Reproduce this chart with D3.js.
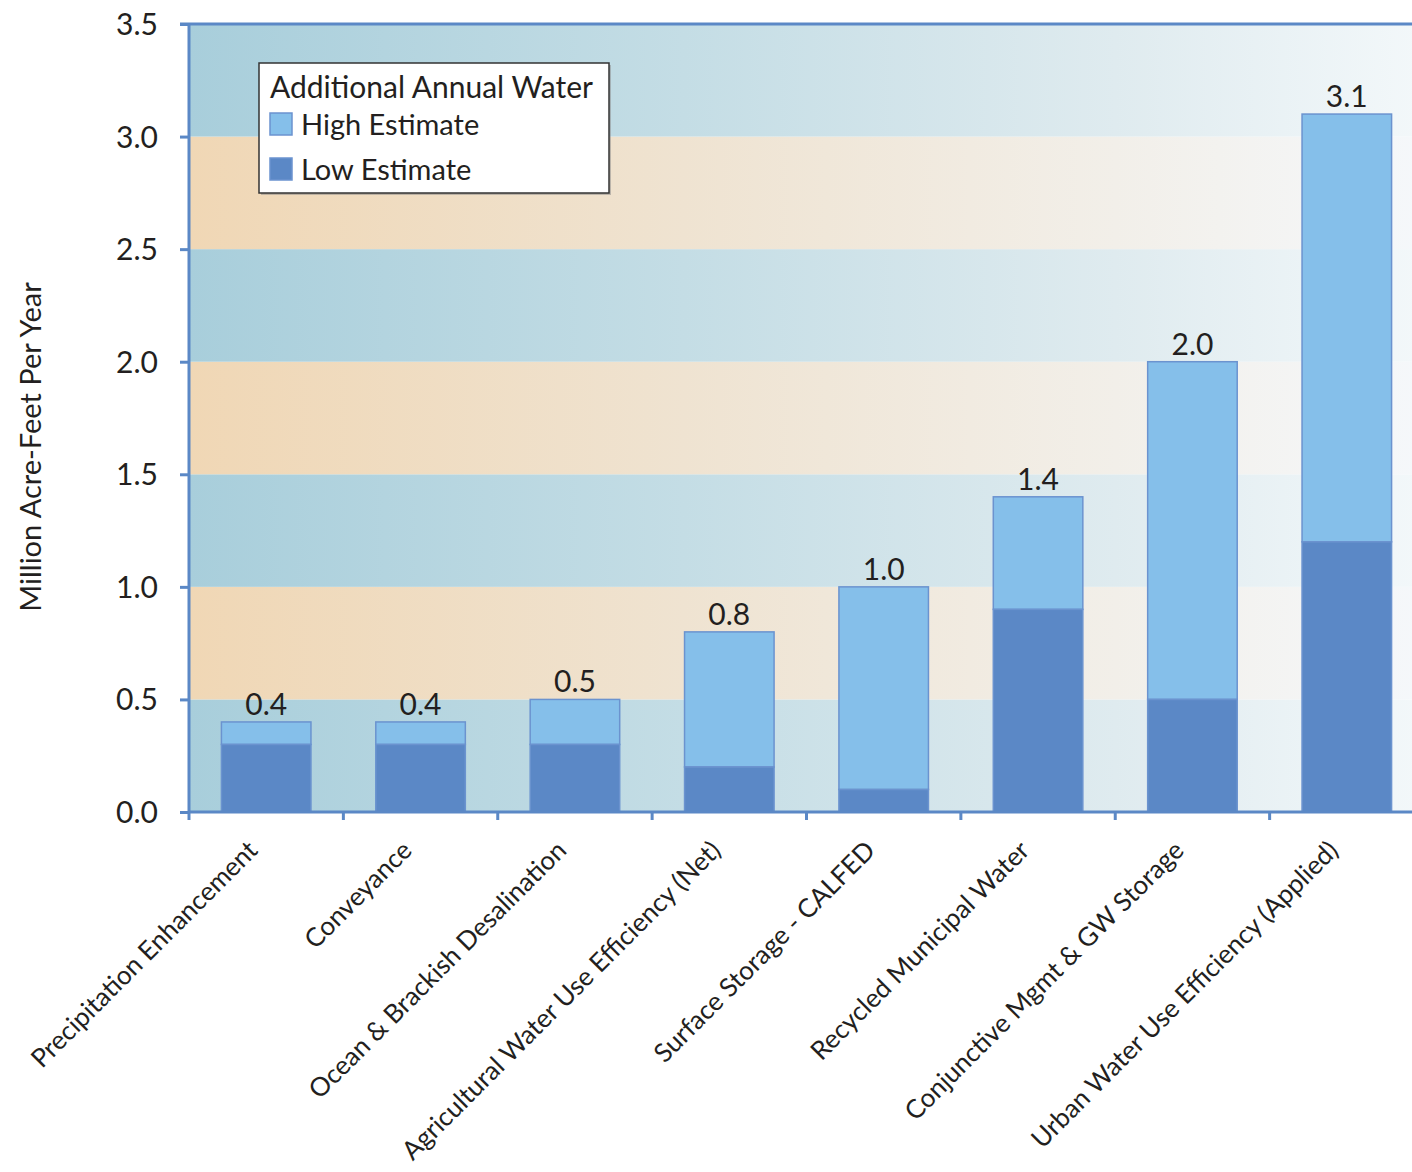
<!DOCTYPE html>
<html>
<head>
<meta charset="utf-8">
<script src="https://cdn.jsdelivr.net/npm/d3@7"></script>
<style>
  body { margin: 0; background: #fff; }
  text { font-family: Lato, "Open Sans", sans-serif; fill: #231f20; }
</style>
</head>
<body>
<div id="chart"></div>
<script>
// data
var categories = ["Precipitation Enhancement", "Conveyance", "Ocean & Brackish Desalination",
  "Agricultural Water Use Efficiency (Net)", "Surface Storage - CALFED", "Recycled Municipal Water",
  "Conjunctive Mgmt & GW Storage", "Urban Water Use Efficiency (Applied)"];
var highEstimate = [0.4, 0.4, 0.5, 0.8, 1.0, 1.4, 2.0, 3.1];
var lowEstimate = [0.3, 0.3, 0.3, 0.2, 0.1, 0.9, 0.5, 1.2];
var yTicks = [0, 0.5, 1.0, 1.5, 2.0, 2.5, 3.0, 3.5];

var W = 1412, H = 1172;
var pL = 189, pR = 1424, pT = 24, pB = 812;
var axisColor = "#5b88c6", highColor = "#85bfea", lowColor = "#5b88c6", edge = "#6b93cf";

var svg = d3.select("#chart").append("svg").attr("width", W).attr("height", H);
var defs = svg.append("defs");

var x = d3.scaleBand().domain(categories).range([pL, pR]).paddingInner(0.42).paddingOuter(0.21);
var y = d3.scaleLinear().domain([0, 3.5]).range([pB, pT]);

function grad(id, stops) {
  var g = defs.append("linearGradient").attr("id", id).attr("gradientUnits", "userSpaceOnUse")
    .attr("x1", pL).attr("x2", pR).attr("y1", 0).attr("y2", 0);
  stops.forEach(function (s) { g.append("stop").attr("offset", s[0]).attr("stop-color", s[1]) });
}
grad("gBlue", [[0, "#a8cedb"], [0.4, "#c4dde5"], [0.75, "#dfebef"], [1, "#f3f8fa"]]);
grad("gOrange", [[0, "#f0d7b5"], [0.4, "#efe3d1"], [0.75, "#f2efe9"], [1, "#f5f8fb"]]);

// background bands
var bands = d3.range(yTicks.length - 1);
svg.append("g").selectAll("rect").data(bands).enter().append("rect")
  .attr("x", pL).attr("width", pR - pL)
  .attr("y", function (i) { return y(yTicks[i + 1]) })
  .attr("height", function (i) { return y(yTicks[i]) - y(yTicks[i + 1]) })
  .attr("fill", function (i) { return i % 2 == 0 ? "url(#gBlue)" : "url(#gOrange)" });

// bars
var bars = svg.append("g").selectAll("g").data(categories).enter().append("g");
bars.append("rect")
  .attr("x", function (d) { return x(d) }).attr("width", x.bandwidth())
  .attr("y", function (d, i) { return y(highEstimate[i]) })
  .attr("height", function (d, i) { return y(lowEstimate[i]) - y(highEstimate[i]) })
  .attr("fill", highColor).attr("stroke", edge).attr("stroke-width", 1.5);
bars.append("rect")
  .attr("x", function (d) { return x(d) }).attr("width", x.bandwidth())
  .attr("y", function (d, i) { return y(lowEstimate[i]) })
  .attr("height", function (d, i) { return y(0) - y(lowEstimate[i]) })
  .attr("fill", lowColor).attr("stroke", edge).attr("stroke-width", 1.5);
bars.append("text")
  .attr("x", function (d) { return x(d) + x.bandwidth() / 2 })
  .attr("y", function (d, i) { return y(highEstimate[i]) - 7 })
  .attr("text-anchor", "middle").attr("font-size", "30px")
  .text(function (d, i) { return highEstimate[i].toFixed(1) });

// y axis
var yAxis = svg.append("g").attr("transform", "translate(" + pL + ",0)")
  .call(d3.axisLeft(y).tickValues(yTicks).tickFormat(d3.format(".1f")).tickSize(9).tickPadding(22));
yAxis.select(".domain").remove();
yAxis.selectAll("line").attr("stroke", axisColor).attr("stroke-width", 3);
yAxis.selectAll("text").attr("font-size", "30px").attr("dy", "0.35em").attr("fill", "#231f20");
svg.append("line").attr("x1", pL).attr("x2", pL).attr("y1", pT).attr("y2", pB)
  .attr("stroke", axisColor).attr("stroke-width", 3);
svg.append("line").attr("x1", pL - 9).attr("x2", W).attr("y1", pT).attr("y2", pT)
  .attr("stroke", axisColor).attr("stroke-width", 3);

// x axis
var step = x.step();
var xTicks = d3.range(categories.length).map(function (i) { return pL + i * step });
svg.append("line").attr("x1", pL).attr("x2", W).attr("y1", pB).attr("y2", pB)
  .attr("stroke", axisColor).attr("stroke-width", 3);
svg.append("g").selectAll("line").data(xTicks).enter().append("line")
  .attr("x1", function (d) { return d }).attr("x2", function (d) { return d })
  .attr("y1", pB).attr("y2", pB + 8)
  .attr("stroke", axisColor).attr("stroke-width", 3);
svg.append("g").selectAll("text").data(categories).enter().append("text")
  .attr("transform", function (d) {
    return "translate(" + (x(d) + x.bandwidth() / 2 - 7) + "," + 852 + ") rotate(-45)"
  })
  .attr("text-anchor", "end").attr("font-size", "26px")
  .text(function (d) { return d });

// y title
svg.append("text").attr("transform", "translate(41,447) rotate(-90)")
  .attr("text-anchor", "middle").attr("font-size", "29px")
  .text("Million Acre-Feet Per Year");

// legend
var lg = svg.append("g").attr("transform", "translate(259,63)");
lg.append("rect").attr("x", 2).attr("y", 2).attr("width", 350).attr("height", 130).attr("fill", "#888").attr("opacity", 0.5);
lg.append("rect").attr("width", 350).attr("height", 130).attr("fill", "#fff")
  .attr("stroke", "#333").attr("stroke-width", 1.5);
lg.append("text").attr("x", 11).attr("y", 35).attr("font-size", "30px").text("Additional Annual Water");
var legendItems = [["High Estimate", highColor], ["Low Estimate", lowColor]];
legendItems.forEach(function (it, i) {
  lg.append("rect").attr("x", 11).attr("y", 50 + i * 45).attr("width", 22).attr("height", 22)
    .attr("fill", it[1]).attr("stroke", edge).attr("stroke-width", 1.5);
  lg.append("text").attr("x", 42).attr("y", 72 + i * 45).attr("font-size", "29px").text(it[0]);
});
</script>
</body>
</html>
